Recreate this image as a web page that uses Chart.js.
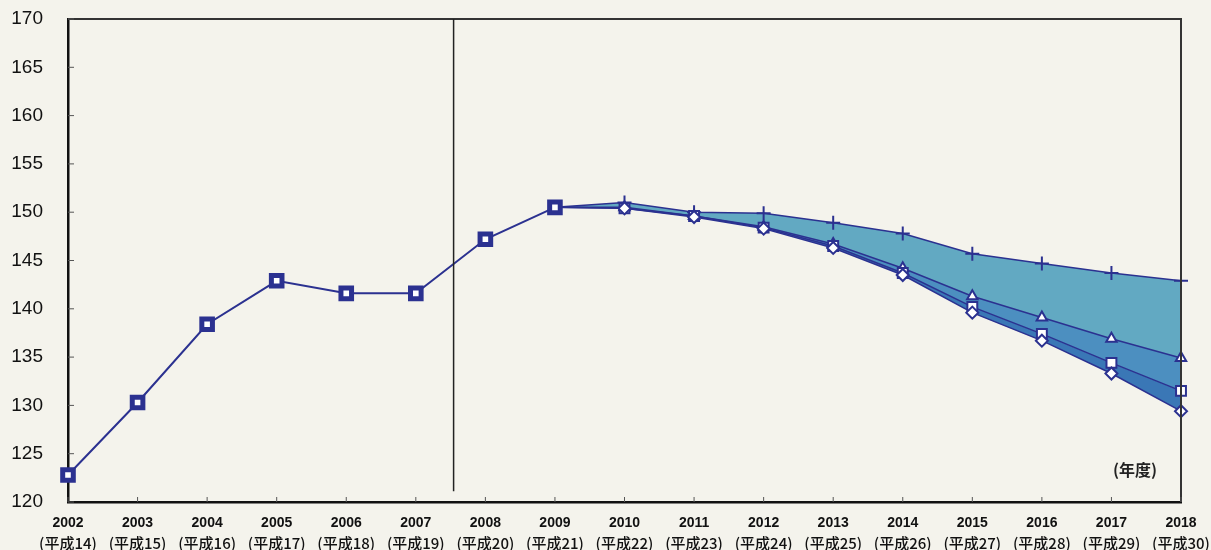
<!DOCTYPE html>
<html>
<head>
<meta charset="utf-8">
<script src="https://cdn.jsdelivr.net/npm/chart.js@4/dist/chart.umd.min.js"></script>
<style>
  html, body { margin: 0; padding: 0; background: #f4f3ec; }
  #wrap { width: 1211px; height: 550px; }
</style>
</head>
<body>
<div id="wrap"><canvas id="chart"></canvas></div>
<script>
// 年度ラベル
const years = ['2002','2003','2004','2005','2006','2007','2008','2009','2010','2011','2012','2013','2014','2015','2016','2017','2018'];
const heisei = ['(平成14)','(平成15)','(平成16)','(平成17)','(平成18)','(平成19)','(平成20)','(平成21)','(平成22)','(平成23)','(平成24)','(平成25)','(平成26)','(平成27)','(平成28)','(平成29)','(平成30)'];

// 実績 (2002-2009)
const actual = [122.8, 130.3, 138.4, 142.9, 141.6, 141.6, 147.2, 150.5, null, null, null, null, null, null, null, null, null];

// 見通し (2009-2018)
const projPlus     = [null, null, null, null, null, null, null, 150.5, 151.0, 150.0, 149.9, 148.9, 147.8, 145.7, 144.7, 143.7, 142.9];
const projTriangle = [null, null, null, null, null, null, null, 150.5, 150.5, 149.6, 148.5, 146.7, 144.2, 141.3, 139.1, 136.9, 134.9];
const projSquare   = [null, null, null, null, null, null, null, 150.5, 150.4, 149.6, 148.4, 146.5, 143.7, 140.2, 137.4, 134.4, 131.5];
const projDiamond  = [null, null, null, null, null, null, null, 150.5, 150.4, 149.5, 148.3, 146.3, 143.5, 139.6, 136.7, 133.3, 129.4];

const navy = '#2b3190';

// 2009の点は実績側で描く
const hideFirst = ctx => ctx.dataIndex === 7 ? 0 : undefined;

// 背景・枠・目盛・区切り線
const decor = {
    id: 'decor',
    beforeDraw(chart) {
        const c = chart.ctx;
        c.save();
        c.fillStyle = '#f4f3ec';
        c.fillRect(0, 0, chart.width, chart.height);
        c.restore();
    },
    afterDraw(chart) {
        const c = chart.ctx;
        const a = chart.chartArea;
        const xs = chart.scales.x;
        const ys = chart.scales.y;
        c.save();
        // 上と右の枠
        c.strokeStyle = '#333';
        c.lineWidth = 2;
        c.beginPath();
        c.moveTo(a.left, a.top);
        c.lineTo(a.right, a.top);
        c.lineTo(a.right, a.bottom);
        c.stroke();
        // 内向き目盛
        c.strokeStyle = '#555';
        c.lineWidth = 1;
        c.beginPath();
        ys.ticks.forEach(t => {
            const py = ys.getPixelForValue(t.value);
            c.moveTo(a.left, py);
            c.lineTo(a.left + 6, py);
        });
        xs.ticks.forEach((t, i) => {
            const px = xs.getPixelForValue(i);
            c.moveTo(px, a.bottom);
            c.lineTo(px, a.bottom - 5);
        });
        c.stroke();
        // 実績と見通しの区切り (2007と2008の間)
        const vx = (xs.getPixelForValue(5) + xs.getPixelForValue(6)) / 2 + 3;
        c.strokeStyle = '#222';
        c.lineWidth = 1.5;
        c.beginPath();
        c.moveTo(vx, a.top);
        c.lineTo(vx, ys.getPixelForValue(121.1));
        c.stroke();
        // 単位
        c.fillStyle = '#222';
        c.font = 'bold 16px "Noto Sans CJK JP"';
        c.textAlign = 'right';
        c.textBaseline = 'middle';
        c.fillText('(年度)', a.right - 24, ys.getPixelForValue(123.3));
        c.restore();
    }
};

new Chart(document.getElementById('chart'), {
    type: 'line',
    data: {
        labels: years,
        datasets: [
            {
                label: '実績',
                data: actual,
                borderColor: navy,
                borderWidth: 2,
                pointStyle: 'rect',
                pointRadius: 7.5,
                pointBorderWidth: 5,
                pointBorderColor: navy,
                pointBackgroundColor: '#ffffff',
                fill: false,
                clip: false,
                order: 0
            },
            {
                label: '上位',
                data: projPlus,
                borderColor: navy,
                borderWidth: 1.5,
                pointStyle: 'cross',
                pointRadius: ctx => hideFirst(ctx) ?? 7,
                pointBorderWidth: 2,
                pointBorderColor: navy,
                backgroundColor: '#62a9c2',
                fill: '+1',
                clip: false,
                order: 4
            },
            {
                label: '中位',
                data: projTriangle,
                borderColor: navy,
                borderWidth: 1.5,
                pointStyle: 'triangle',
                pointRadius: ctx => hideFirst(ctx) ?? 6,
                pointBorderWidth: 2,
                pointBorderColor: navy,
                pointBackgroundColor: '#ffffff',
                backgroundColor: '#4c8fc0',
                fill: '+1',
                clip: false,
                order: 3
            },
            {
                label: '下位',
                data: projSquare,
                borderColor: navy,
                borderWidth: 1.5,
                pointStyle: 'rect',
                pointRadius: ctx => hideFirst(ctx) ?? 7,
                pointBorderWidth: 2,
                pointBorderColor: navy,
                pointBackgroundColor: '#ffffff',
                backgroundColor: '#3a77b6',
                fill: '+1',
                clip: false,
                order: 2
            },
            {
                label: '最下位',
                data: projDiamond,
                borderColor: navy,
                borderWidth: 1.5,
                pointStyle: 'rectRot',
                pointRadius: ctx => hideFirst(ctx) ?? 6,
                pointBorderWidth: 2,
                pointBorderColor: navy,
                pointBackgroundColor: '#ffffff',
                fill: false,
                clip: false,
                order: 1
            }
        ]
    },
    options: {
        responsive: true,
        maintainAspectRatio: false,
        animation: false,
        layout: { padding: { top: 19, right: 30, left: 0, bottom: 0 } },
        plugins: {
            legend: { display: false },
            tooltip: { enabled: false }
        },
        scales: {
            x: {
                offset: false,
                grid: { display: false, drawTicks: false },
                border: { display: true, color: '#111', width: 2.5 },
                ticks: {
                    autoSkip: false,
                    maxRotation: 0,
                    minRotation: 0,
                    padding: 13,
                    color: '#111',
                    font: { family: '"Liberation Sans"', size: 14, weight: 'bold' }
                },
                afterFit: s => { s.height = 29; s.paddingLeft = 0; s.paddingRight = 0; }
            },
            x2: {
                type: 'category',
                labels: heisei,
                position: 'bottom',
                offset: false,
                grid: { display: false, drawTicks: false },
                border: { display: false },
                ticks: {
                    autoSkip: false,
                    maxRotation: 0,
                    minRotation: 0,
                    padding: 3,
                    color: '#111',
                    font: { family: '"Noto Sans CJK JP"', size: 15, weight: 500 }
                },
                afterFit: s => { s.height = 19; s.paddingLeft = 0; s.paddingRight = 0; }
            },
            y: {
                min: 120,
                max: 170,
                grid: { display: false, drawTicks: false },
                border: { display: true, color: '#111', width: 2.5 },
                ticks: {
                    stepSize: 5,
                    padding: 25,
                    color: '#111',
                    font: { family: '"Liberation Sans"', size: 19 }
                },
                afterFit: s => { s.width = 68; s.paddingTop = 0; s.paddingBottom = 0; }
            }
        }
    },
    plugins: [decor]
});
</script>
</body>
</html>
